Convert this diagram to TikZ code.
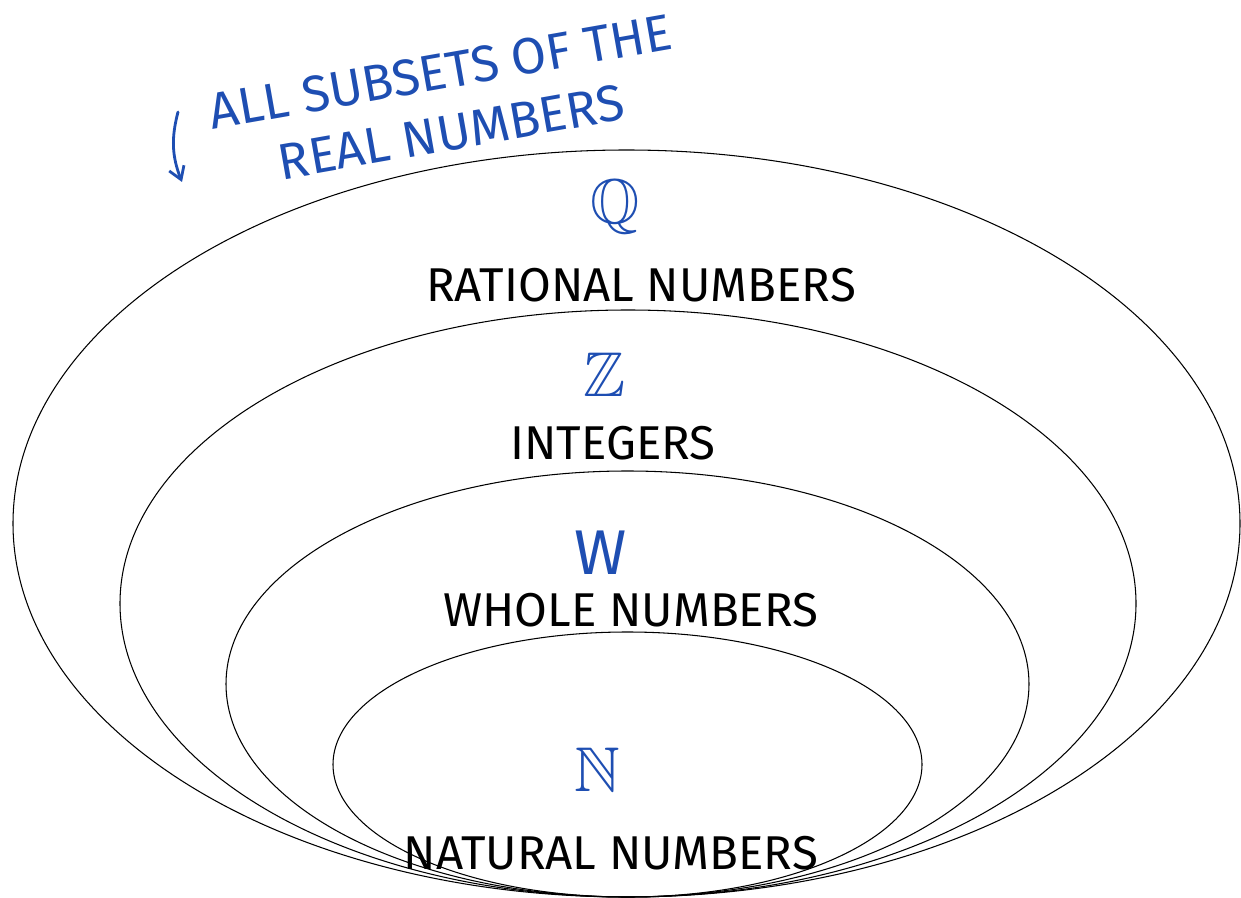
\documentclass[tikz,border=0pt]{standalone}
\usepackage{amssymb}
\usepackage{fontspec}
\setmainfont{Fira Sans}
\usetikzlibrary{arrows.meta, positioning}
\definecolor{penblue}{RGB}{30,78,178}

\begin{document}
\begin{tikzpicture}[
			x=0.02cm, y=-0.02cm,
			setline/.style={line width=0.6pt, black},
			setname/.style={
					font=\fontsize{27}{29}\selectfont,
					text=black,
					inner sep=0pt
				},
			setsym/.style={
					font=\fontsize{36}{38}\selectfont,
					text=penblue,
					inner sep=0pt
				},
			note/.style={
					font=\fontsize{29}{35}\selectfont,
					text=penblue,
					align=center,
					rotate=10,
					inner sep=0pt
				}
		]
		\useasboundingbox (0,0) rectangle (1241,898);

		% nested sets, all touching at the bottom
		\draw[setline] (626.5,523.5) ellipse [x radius=613.5, y radius=373.5];
		\draw[setline] (628,603.5) ellipse [x radius=508, y radius=293.5];
		\draw[setline] (627.5,684) ellipse [x radius=401.5, y radius=213];
		\draw[setline] (627.5,764.5) ellipse [x radius=294.5, y radius=132.5];

		% symbols and names
		\node[setsym] (symQ) at (615,207) {$\mathbb{Q}$};
		\node[setname] (rational) at (641,285) {RATIONAL NUMBERS};
		\node[setsym] (symZ) at (605,375) {$\mathbb{Z}$};
		\node[setname] (integers) at (613,443) {INTEGERS};
		\node[setsym] (symW) at (601,553) {W};
		\node[setname] (whole) at (631,610) {WHOLE NUMBERS};
		\node[setsym] (symN) at (597,770) {$\mathbb{N}$};
		\node[setname] (natural) at (611,853) {NATURAL NUMBERS};

		% note in the corner
		\node[note] (note) at (446,102) {ALL SUBSETS OF THE\\REAL NUMBERS};
		\coordinate (tail) at (178,112);
		\coordinate (tip) at (182,182);
		\draw[penblue, line width=1.6pt, line cap=round, -{Straight Barb[length=7pt, width=9pt]}]
		(tail) to[bend right=18] (tip);
	\end{tikzpicture}
\end{document}
